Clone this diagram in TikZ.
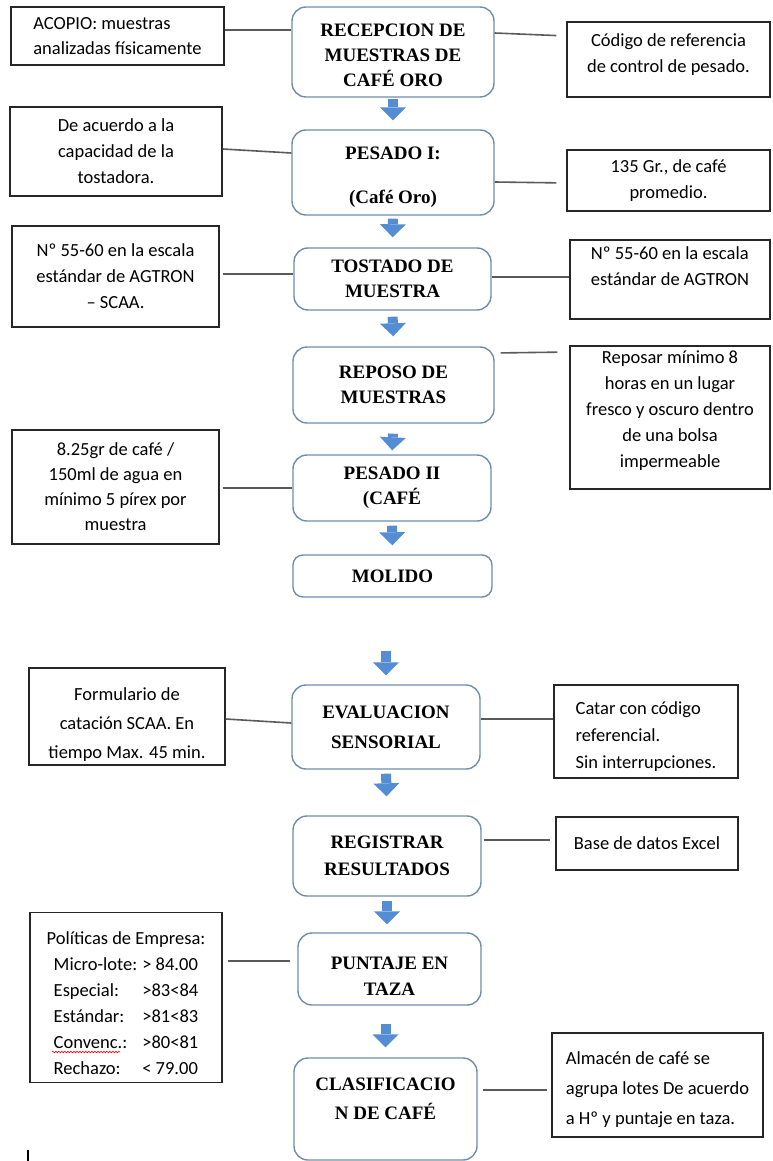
\documentclass[tikz,border=0pt]{standalone}
\usepackage{fontspec}
\setmainfont{Liberation Serif}
\newfontfamily\calibri{Carlito}
\usepackage{tikz}
\usetikzlibrary{calc, arrows.meta, decorations.pathmorphing}
\definecolor{boxline}{RGB}{112,140,170}
\definecolor{flowblue}{RGB}{84,141,212}
\definecolor{linkgray}{RGB}{90,90,90}
\tikzstyle{stage}=[draw=boxline, line width=1.4pt, rounded corners=14pt, align=center, inner sep=0pt, font=\fontsize{19}{25}\selectfont\bfseries]
\tikzstyle{note}=[draw=black!85, line width=1.3pt, align=center, inner sep=0pt, font=\calibri\fontsize{18.5}{26}\selectfont]
\tikzstyle{link}=[draw=linkgray, line width=1.6pt]
\tikzstyle{flow}=[draw=flowblue, line width=10pt, -{Triangle[width=26pt,length=13pt,line width=0pt]}]

\begin{document}
\begin{tikzpicture}[x=1pt,y=-1pt]
	\useasboundingbox (0,0) rectangle (772,1161);

	%main process boxes
	\node[stage, minimum width=202pt, minimum height=90pt] (m1) at (393,52) {\mbox{}\\[-5.5pt]RECEPCION DE\\MUESTRAS DE\\CAFÉ ORO};
	\node[stage, minimum width=202pt, minimum height=85pt] (m2) at (393,172.5) {\mbox{}\\[-2.5pt]PESADO I:\\[19pt](Café Oro)};
	\node[stage, minimum width=197pt, minimum height=62pt] (m3) at (392.5,279) {TOSTADO DE\\MUESTRA};
	\node[stage, minimum width=201pt, minimum height=76pt] (m4) at (393.5,385) {REPOSO DE\\MUESTRAS};
	\node[stage, minimum width=198pt, minimum height=66pt] (m5) at (392,488) {PESADO II\\(CAFÉ};
	\node[stage, minimum width=199pt, minimum height=42pt, rounded corners=10pt] (m6) at (392.5,576) {MOLIDO};
	\node[stage, minimum width=188pt, minimum height=84pt, font=\fontsize{19}{30}\selectfont\bfseries] (m7) at (386,727) {EVALUACION\\SENSORIAL};
	\node[stage, minimum width=188pt, minimum height=80pt, font=\fontsize{19}{27}\selectfont\bfseries] (m8) at (387,856) {REGISTRAR\\RESULTADOS};
	\node[stage, minimum width=183pt, minimum height=72pt, font=\fontsize{19}{26}\selectfont\bfseries] (m9) at (389.5,969) {\mbox{}\\PUNTAJE EN\\TAZA};
	\node[stage, minimum width=183pt, minimum height=102pt, font=\fontsize{19}{29}\selectfont\bfseries] (m10) at (385.5,1109) {CLASIFICACIO\\N DE CAFÉ\\[-8pt]\mbox{}};

	%side notes
	\node[note, align=left, minimum width=213pt, minimum height=58pt, font=\calibri\fontsize{18.5}{25}\selectfont] (l1) at (117.5,36) {ACOPIO: muestras\\analizadas físicamente};
	\node[note, minimum width=203pt, minimum height=75pt] (r1) at (668.5,59.5) {Código de referencia\\de control de pesado.\\[-14pt]\mbox{}};
	\node[note, minimum width=212pt, minimum height=89pt] (l2) at (116,151.5) {De acuerdo a la\\capacidad de la\\tostadora.};
	\node[note, minimum width=203pt, minimum height=61pt] (r2) at (668.5,180.5) {135 Gr., de café\\promedio.};
	\node[note, minimum width=207pt, minimum height=101pt] (l3) at (115.5,276.5) {Nº 55-60 en la escala\\estándar de AGTRON\\– SCAA.};
	\node[note, align=left, minimum width=200pt, minimum height=79pt] (r3) at (670,279.5) {Nº 55-60 en la escala\\estándar de AGTRON\\\mbox{}};
	\node[note, minimum width=200pt, minimum height=143pt] (r4) at (670,417.5) {Reposar mínimo 8\\horas en un lugar\\fresco y oscuro dentro\\de una bolsa\\impermeable\\[-9pt]\mbox{}};
	\node[note, minimum width=207pt, minimum height=114pt, font=\calibri\fontsize{18.5}{25}\selectfont] (l5) at (115.5,487) {8.25gr de café /\\150ml de agua en\\mínimo 5 pírex por\\muestra};
	\node[note, minimum width=196pt, minimum height=97pt, font=\calibri\fontsize{18.5}{29}\selectfont] (l7) at (127,716.5) {\mbox{}\\[-1pt]Formulario de\\catación SCAA. En\\tiempo Max. 45 min.};
	\node[note, align=left, minimum width=184pt, minimum height=93pt, font=\calibri\fontsize{18.5}{27}\selectfont] (r7) at (646,731.5) {\mbox{}\\[-4pt]Catar con código\\referencial.\\Sin interrupciones.};
	\node[note, minimum width=182pt, minimum height=53pt] (r8) at (647,843.5) {Base de datos Excel};
	\node[note, minimum width=192pt, minimum height=169pt] (l9) at (126,997.5) {\mbox{}\\[6pt]Políticas de Empresa:\\
		\begin{tabular}[t]{@{}l@{\hspace{5pt}}l@{}}
		Micro-lote: & > 84.00\\
		Especial: & >83<84\\
		Estándar: & >81<83\\
		Convenc.: & >80<81\\
		Rechazo: & < 79.00
		\end{tabular}};
	\node[note, align=left, minimum width=211pt, minimum height=104pt, font=\calibri\fontsize{18.5}{30}\selectfont] (r10) at (657.5,1085) {\mbox{}\\[-8pt]Almacén de café se\\agrupa lotes De acuerdo\\a Hº y puntaje en taza.};

	%flow arrows
	\draw[flow, shorten <=1pt, shorten >=9pt] (m1.south) -- (m2.north);
	\draw[flow, shorten <=3pt, shorten >=10pt] (m2.south) -- (m3.north);
	\draw[flow, shorten <=6pt, shorten >=10pt] (m3.south) -- (m4.north);
	\draw[flow, shorten <=10pt, shorten >=4pt] (m4.south) -- (m5.north);
	\draw[flow, shorten <=4pt, shorten >=9pt] (m5.south) -- (m6.north);
	\draw[flow, shorten <=53pt, shorten >=9pt] (m7.north |- m6.south) -- (m7.north);
	\draw[flow, shorten <=4pt, shorten >=19pt] (m7.south) -- (m8.north);
	\draw[flow, shorten <=4pt, shorten >=8pt] (m8.south) -- (m8.south |- m9.north);
	\draw[flow, shorten <=18pt, shorten >=10pt] (m10.north |- m9.south) -- (m10.north);

	%links to the notes
	\draw[link] (l1.east |- 0,30) -- (m1.west |- 0,30);
	\draw[link, shorten >=10pt] (m1.east |- 0,33) -- (r1.west |- 0,36);
	\draw[link] (l2.east |- 0,149) -- (m2.west |- 0,153);
	\draw[link, shorten >=10pt] (m2.east |- 0,182) -- (r2.west |- 0,183);
	\draw[link, shorten <=3pt] (l3.east |- 0,274) -- (m3.west |- 0,274);
	\draw[link] (m3.east |- 0,277) -- (r3.west |- 0,277);
	\draw[link, shorten <=6pt, shorten >=12pt] (m4.east |- 0,353) -- (r4.west |- 0,352);
	\draw[link, shorten <=3pt] (l5.east |- 0,488) -- (m5.west |- 0,488);
	\draw[link] (l7.east |- 0,719) -- (m7.west |- 0,723);
	\draw[link] (m7.east |- 0,719) -- (r7.west |- 0,719);
	\draw[link, shorten <=2pt, shorten >=5pt] (m8.east |- 0,840) -- (r8.west |- 0,840);
	\draw[link, shorten <=5pt, shorten >=7pt] (l9.east |- 0,961) -- (m9.west |- 0,961);
	\draw[link, shorten <=5pt, shorten >=4pt] (m10.east |- 0,1090) -- (r10.west |- 0,1090);

	%spelling mark and cursor
	\draw[red, line width=0.6pt, decorate, decoration={snake, amplitude=0.8pt, segment length=3pt}] (52,1052) -- (120,1052);
	\draw[line width=2pt] (28,1150) -- (28,1161);

\end{tikzpicture}
\end{document}
